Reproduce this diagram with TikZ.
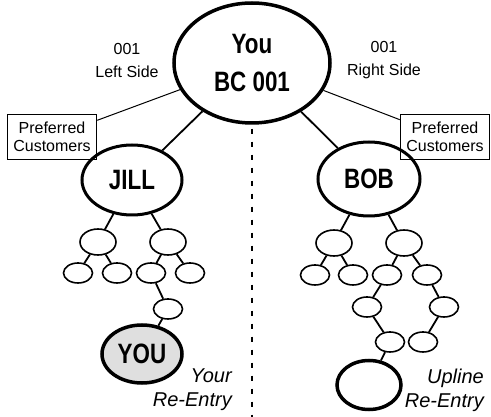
\documentclass[tikz,border=0pt]{standalone}
\usepackage{fontspec}
\setmainfont{Liberation Sans}
\newfontfamily\namefont[FakeStretch=0.8]{Liberation Sans}
\usetikzlibrary{shapes.geometric}

\begin{document}
\begin{tikzpicture}[x=1pt, y=-1pt, every path/.style={line width=1.8pt},
	bigoval/.style={draw, ellipse, inner sep=0pt, align=center, line width=3.5pt,
		font=\namefont\bfseries\fontsize{28}{38}\selectfont},
	kidoval/.style={draw, ellipse, inner sep=0pt, line width=1.6pt, minimum width=36pt, minimum height=26pt},
	leafoval/.style={draw, ellipse, inner sep=0pt, line width=1.6pt, minimum width=29pt, minimum height=20pt},
	custbox/.style={draw, line width=1.5pt, align=center, inner sep=1pt, minimum width=89pt, minimum height=45pt,
		font=\fontsize{16}{18}\selectfont},
	sidetext/.style={align=center, font=\fontsize{16}{23}\selectfont},
	entrytext/.style={anchor=east, align=right, font=\itshape\fontsize{20}{24}\selectfont},
	thinlink/.style={line width=1pt}]
	\useasboundingbox (0,0) rectangle (491,417);
	% sponsor and the two legs
	\node[bigoval, minimum width=156pt, minimum height=120pt] (top) at (252,63) {You\\BC 001};
	\node[sidetext] (lside) at (127,60) {001\\Left Side};
	\node[sidetext] (rside) at (384,60) {001\\Right Side};
	\node[custbox] (lbox) at (52,137) {Preferred\\Customers};
	\node[custbox] (rbox) at (445,137) {Preferred\\Customers};
	\node[bigoval, line width=3pt, minimum width=100pt, minimum height=70pt] (jill) at (132,180) {JILL};
	\node[bigoval, line width=3pt, minimum width=102pt, minimum height=74pt] (bob) at (369,179) {BOB};
	\draw[thinlink] (top) -- (lbox);
	\draw[thinlink] (top) -- (rbox);
	\draw (top) -- (jill);
	\draw (top) -- (bob);
	\coordinate (divend) at (252,417);
	\draw[line width=2.5pt, dash pattern=on 5pt off 8pt] ([yshift=-4pt]top.south) -- (divend);
	% left leg
	\node[kidoval] (ja) at (98,242) {};
	\node[kidoval] (jb) at (168,242) {};
	\node[leafoval] (jaa) at (78,273) {};
	\node[leafoval] (jab) at (117,273) {};
	\node[leafoval] (jba) at (151,273) {};
	\node[leafoval] (jbb) at (190,273) {};
	\node[leafoval] (jbaa) at (168,309) {};
	\node[bigoval, fill=gray!25, minimum width=80pt, minimum height=58pt] (you) at (142,354) {YOU};
	\draw (jill) -- (ja);
	\draw (jill) -- (jb);
	\draw (ja) -- (jaa);
	\draw (ja) -- (jab);
	\draw (jb) -- (jba);
	\draw (jb) -- (jbb);
	\draw (jba) -- (jbaa);
	\draw (jbaa) -- (you);
	\node[entrytext] (yourtext) at (236,390) {Your\\Re-Entry};
	% right leg
	\node[kidoval] (ba) at (334,243) {};
	\node[kidoval] (bb) at (404,243) {};
	\node[leafoval] (baa) at (315,275) {};
	\node[leafoval] (bab) at (353,275) {};
	\node[leafoval] (bba) at (387,275) {};
	\node[leafoval] (bbb) at (427,275) {};
	\node[leafoval] (bbaa) at (367,307) {};
	\node[leafoval] (bbba) at (444,307) {};
	\node[leafoval] (bbaaa) at (390,342) {};
	\node[leafoval] (bbbaa) at (423,342) {};
	\node[bigoval, minimum width=64pt, minimum height=49pt] (upline) at (369,385) {};
	\draw (bob) -- (ba);
	\draw (bob) -- (bb);
	\draw (ba) -- (baa);
	\draw (ba) -- (bab);
	\draw (bb) -- (bba);
	\draw (bb) -- (bbb);
	\draw (bba) -- (bbaa);
	\draw (bbb) -- (bbba);
	\draw (bbaa) -- (bbaaa);
	\draw (bbba) -- (bbbaa);
	\draw (bbaaa) -- (upline);
	\node[entrytext] (uplinetext) at (488,390) {Upline\\Re-Entry};
\end{tikzpicture}
\end{document}
